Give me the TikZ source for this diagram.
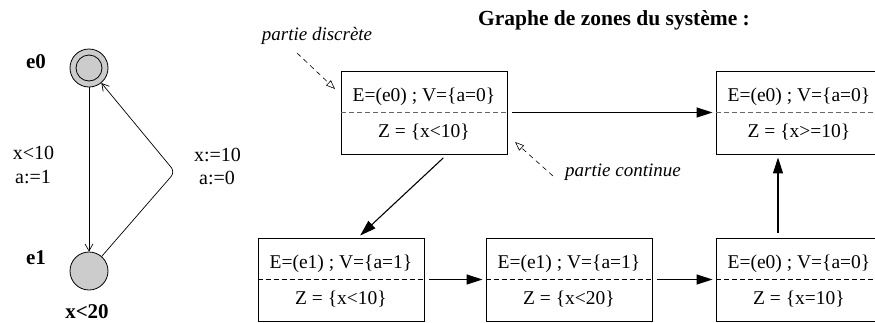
\documentclass[tikz,border=0pt]{standalone}
\usepackage{fontspec}
\setmainfont{Liberation Serif}
\usetikzlibrary{arrows.meta}
\tikzset{
  zonebox/.style={draw, line width=0.9pt, minimum width=166pt, minimum height=83pt, inner sep=0pt},
  sep/.style={dashed, line width=0.8pt, dash pattern=on 5pt off 3pt},
  boxtxt/.style={font=\fontsize{19.5}{22}\selectfont, inner sep=0pt},
  flow/.style={line width=1.1pt, -{Triangle[length=16pt,width=10pt]}, shorten <=5pt, shorten >=3pt},
  note/.style={dashed, line width=0.6pt, dash pattern=on 5pt off 4pt, -{Triangle[open,length=9pt,width=7pt]}},
  notetxt/.style={font=\fontsize{19}{22}\selectfont\itshape, inner sep=0pt},
  loc/.style={circle, draw, line width=0.8pt, fill=black!20, minimum size=38pt, inner sep=0pt},
  trans/.style={line width=0.7pt, -{Straight Barb[length=7pt,width=8pt]}},
  lab/.style={font=\fontsize{20}{23}\selectfont, inner sep=0pt, align=left},
  blab/.style={font=\fontsize{21}{24}\selectfont\bfseries, inner sep=0pt},
}
\begin{document}
\begin{tikzpicture}[x=1pt,y=-1pt]
\useasboundingbox (0,0) rectangle (875,322);
% automaton
\node[loc] (e0) at (89,68) {};
\node[circle, draw, line width=0.8pt, minimum size=26pt, inner sep=0pt] (e0in) at (89,68) {};
\node[loc] (e1) at (89,271) {};
\node[blab] (le0) at (36,62) {e0};
\node[blab] (le1) at (36,258) {e1};
\node[blab] (inv) at (87,312) {x<20};
\coordinate (bend) at (175,172);
\draw[trans] (e0) -- (e1);
\draw[trans, rounded corners=6pt] (e1) -- (bend) -- (e0);
\node[lab] (g1) at (33.5,153) {x<10};
\node[lab] (g2) at (33,177) {a:=1};
\node[lab] (g3) at (217.5,155) {x:=10};
\node[lab] (g4) at (217,178) {a:=0};
% title
\node[font=\fontsize{21.5}{25}\selectfont\bfseries, inner sep=0pt] (title) at (614,20) {Graphe de zones du système :};
% zone boxes
\node[zonebox] (b1) at (424,112.5) {};
\node[zonebox] (b2) at (799,112.5) {};
\node[zonebox] (b3) at (341,279.5) {};
\node[zonebox] (b4) at (569,279.5) {};
\node[zonebox] (b5) at (799,279.5) {};
\draw[sep, black!60] (b1.west) -- (b1.east);
\draw[sep, black!60] (b2.west) -- (b2.east);
\draw[sep] (b3.west) -- (b3.east);
\draw[sep] (b4.west) -- (b4.east);
\draw[sep] (b5.west) -- (b5.east);
\node[boxtxt] (t1a) at ([yshift=15.5pt]b1.center) {E=(e0) ; V=\{a=0\}};
\node[boxtxt] (t1b) at ([yshift=-19.5pt]b1.center) {Z = \{x<10\}};
\node[boxtxt] (t2a) at ([yshift=15.5pt]b2.center) {E=(e0) ; V=\{a=0\}};
\node[boxtxt] (t2b) at ([yshift=-19.5pt]b2.center) {Z = \{x>=10\}};
\node[boxtxt] (t3a) at ([yshift=16pt]b3.center) {E=(e1) ; V=\{a=1\}};
\node[boxtxt] (t3b) at ([yshift=-20pt]b3.center) {Z = \{x<10\}};
\node[boxtxt] (t4a) at ([yshift=16pt]b4.center) {E=(e1) ; V=\{a=1\}};
\node[boxtxt] (t4b) at ([yshift=-20pt]b4.center) {Z = \{x<20\}};
\node[boxtxt] (t5a) at ([yshift=16pt]b5.center) {E=(e0) ; V=\{a=0\}};
\node[boxtxt] (t5b) at ([yshift=-20pt]b5.center) {Z = \{x=10\}};
% flows
\draw[flow] (b1.east) -- (b2.west);
\draw[flow] ([xshift=23pt]b1.south) -- ([xshift=17pt]b3.north);
\draw[flow] (b3.east) -- (b4.west);
\draw[flow] (b4.east) -- (b5.west);
\draw[flow] ([xshift=-21pt]b5.north) -- ([xshift=-21pt]b2.south);
% notes
\node[notetxt] (nd) at (317,36) {partie discrète};
\node[notetxt] (nc) at (623,172) {partie continue};
\coordinate (nds) at (297,53);
\coordinate (ndt) at (335,89);
\coordinate (ncs) at (553,176);
\coordinate (nct) at (515,142);
\draw[note] (nds) -- (ndt);
\draw[note] (ncs) -- (nct);
\end{tikzpicture}
\end{document}
